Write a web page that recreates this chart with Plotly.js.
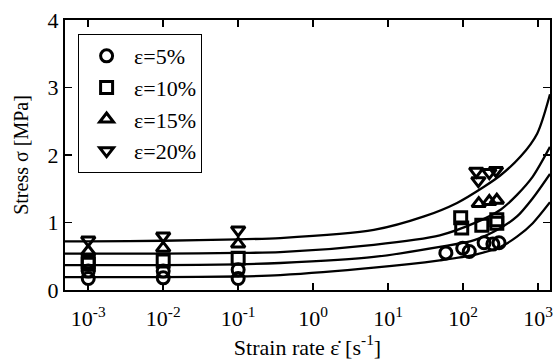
<!DOCTYPE html>
<html>
<head>
<meta charset="utf-8">
<script src="https://cdn.plot.ly/plotly-3.0.1.min.js"></script>
<style>html,body{margin:0;padding:0;background:#fff;}#chart{width:554px;height:363px;}</style>
</head>
<body>
<div id="chart"></div>
<script>
// Measured data (strain rate [1/s], stress [MPa])
var rate5  = [0.001, 0.001, 0.01, 0.01, 0.1, 0.1, 59, 99, 121, 191, 250, 302];
var stress5 = [0.28, 0.17, 0.28, 0.18, 0.30, 0.17, 0.55, 0.62, 0.57, 0.70, 0.68, 0.70];
var rate10 = [0.001, 0.001, 0.01, 0.1, 93, 96, 178, 282, 282];
var stress10 = [0.42, 0.38, 0.43, 0.47, 1.07, 0.92, 0.96, 0.99, 1.04];
var rate15 = [0.001, 0.01, 0.1, 162, 224, 282];
var stress15 = [0.57, 0.62, 0.68, 1.28, 1.31, 1.33];
var rate20 = [0.001, 0.01, 0.1, 150, 160, 224, 275];
var stress20 = [0.74, 0.80, 0.89, 1.76, 1.62, 1.74, 1.77];

// Fitted curves (log10 of strain rate, stress)
var fitLog20 = [-3.31, -3, -2, -1, -0.44, 0.81, 1.48, 1.92, 2.28, 2.50, 2.77, 2.99, 3.16];
var fitVal20 = [0.72, 0.72, 0.73, 0.75, 0.77, 0.89, 1.09, 1.29, 1.53, 1.70, 1.98, 2.32, 2.90];
var fitLog15 = [-3.31, -3, -2, -1, -0.44, 0.81, 1.69, 2.15, 2.50, 2.72, 2.93, 3.16];
var fitVal15 = [0.54, 0.54, 0.54, 0.55, 0.56, 0.67, 0.81, 0.99, 1.19, 1.41, 1.68, 2.12];
var fitLog10 = [-3.31, -3, -2, -1, -0.44, 0.81, 1.69, 2.15, 2.50, 2.72, 2.93, 3.16];
var fitVal10 = [0.37, 0.37, 0.37, 0.38, 0.40, 0.49, 0.64, 0.74, 0.92, 1.09, 1.36, 1.72];
var fitLog5 = [-3.31, -3, -2, -1, -0.44, 0.81, 1.69, 2.15, 2.50, 2.72, 2.93, 3.16];
var fitVal5 = [0.19, 0.19, 0.19, 0.20, 0.22, 0.33, 0.44, 0.52, 0.64, 0.79, 0.99, 1.30];

var xTickVals = [0.001, 0.01, 0.1, 1, 10, 100, 1000];
var xTickText = ['10<sup>-3</sup>', '10<sup>-2</sup>', '10<sup>-1</sup>', '10<sup>0</sup>', '10<sup>1</sup>', '10<sup>2</sup>', '10<sup>3</sup>'];
var yTickVals = [0, 1, 2, 3, 4];

var seriesNames = ['\u03b5=5%', '\u03b5=10%', '\u03b5=15%', '\u03b5=20%'];

function pow10(arr) { return arr.map(function (v) { return Math.pow(10, v); }); }

var FAM = '"Liberation Serif", "Times New Roman", Times, serif';

function fitTrace(lx, vals) {
  return {x: pow10(lx), y: vals, mode: 'lines', type: 'scatter',
    line: {color: '#000', width: 2.3, shape: 'spline', smoothing: 0.8},
    showlegend: false, hoverinfo: 'skip'};
}
function ptTrace(xs, ys, name, sym) {
  return {x: xs, y: ys, mode: 'markers', type: 'scatter', name: name,
    marker: {symbol: sym, size: 12, color: '#000', line: {color: '#000', width: 3}}};
}

var data = [
  fitTrace(fitLog5, fitVal5), fitTrace(fitLog10, fitVal10),
  fitTrace(fitLog15, fitVal15), fitTrace(fitLog20, fitVal20),
  ptTrace(rate5, stress5, seriesNames[0], 'circle-open'),
  ptTrace(rate10, stress10, seriesNames[1], 'square-open'),
  ptTrace(rate15, stress15, seriesNames[2], 'triangle-up-open'),
  ptTrace(rate20, stress20, seriesNames[3], 'triangle-down-open')
];

var layout = {
  width: 554, height: 363,
  margin: {l: 65, r: 4, t: 20, b: 73},
  paper_bgcolor: '#fff', plot_bgcolor: '#fff',
  font: {family: FAM, size: 22, color: '#000'},
  showlegend: true,
  legend: {x: 0.027, y: 0.948, xanchor: 'left', yanchor: 'top',
    bordercolor: '#000', borderwidth: 1, bgcolor: '#fff',
    font: {family: FAM, size: 22, color: '#000'},
    itemwidth: 45, traceorder: 'normal'},
  xaxis: {type: 'log', range: [-3.31, 3.16], tickvals: xTickVals, ticktext: xTickText,
    ticks: 'inside', ticklen: 7, tickwidth: 1.5, tickcolor: '#000',
    showline: true, linecolor: '#000', linewidth: 2, mirror: 'ticks',
    showgrid: false, zeroline: false, ticklabeloverflow: 'allow', ticklabelstandoff: 8,
    tickfont: {family: FAM, size: 22, color: '#000'},
    title: {text: 'Strain rate \u03b5\u0307 [s<sup>-1</sup>]', font: {family: FAM, size: 22, color: '#000'}, standoff: 0}},
  yaxis: {range: [0, 4], tickvals: yTickVals,
    ticks: 'inside', ticklen: 7, tickwidth: 1.5, tickcolor: '#000',
    showline: true, linecolor: '#000', linewidth: 2, mirror: 'ticks',
    showgrid: false, zeroline: false,
    tickfont: {family: FAM, size: 22, color: '#000'},
    title: {text: 'Stress \u03c3 [MPa]', font: {family: FAM, size: 20, color: '#000'}, standoff: 14}}
};

Plotly.newPlot('chart', data, layout, {displayModeBar: false, staticPlot: true});
</script>
</body>
</html>
